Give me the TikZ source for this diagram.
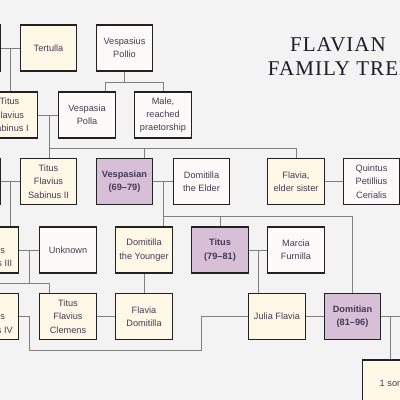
\documentclass[tikz,border=0pt]{standalone}
\usepackage{fontspec}
\setmainfont{Liberation Sans}
\newfontfamily\titlefont[LetterSpace=5]{Liberation Serif}
\definecolor{bg}{HTML}{F3F3F3}
\definecolor{cream}{HTML}{FFF8E7}
\definecolor{snowc}{HTML}{FFFAFA}
\definecolor{thistlec}{HTML}{D8BFD8}
\definecolor{boxborder}{HTML}{222222}
\definecolor{linegray}{HTML}{808080}
\definecolor{txt}{HTML}{443A55}
\definecolor{titlecol}{HTML}{1E1A28}
\begin{document}
\begin{tikzpicture}[x=1pt,y=-1pt,
  person/.style={draw=boxborder, line width=1.3pt, minimum width=56.5pt, minimum height=46pt,
    inner sep=1pt, align=center, font=\fontsize{9.2}{13.3}\selectfont, text=txt},
  blood/.style={person, fill=cream},
  spouse/.style={person, fill=snowc},
  emperor/.style={person, fill=thistlec, font=\fontsize{9.2}{13.3}\selectfont\bfseries},
  link/.style={draw=linegray, line width=1pt},
  titletext/.style={font=\titlefont\fontsize{21}{24}\selectfont, text=titlecol, anchor=base, inner sep=0pt}]
\useasboundingbox (0,0) rectangle (400,400);
\fill[bg] (0,0) rectangle (400,400);
\clip (0,0) rectangle (400,400);

% title
\node[titletext] (t1) at (338,51) {FLAVIAN};
\node[titletext] (t2) at (340,75) {FAMILY TREE};

% people
\node[spouse] (l1) at (-27.5,48) {};
\node[blood] (tert) at (48.5,48) {Tertulla};
\node[spouse] (pollio) at (124.5,48) {Vespasius\\Pollio};
\node[blood] (sab1) at (9.5,115) {Titus\\Flavius\\Sabinus I};
\node[spouse] (polla) at (87,115) {Vespasia\\Polla};
\node[spouse] (male) at (163,115) {Male,\\reached\\praetorship};
\node[spouse] (l3) at (-27.5,181.5) {};
\node[blood] (sab2) at (48.5,181.5) {Titus\\Flavius\\Sabinus II};
\node[emperor] (vesp) at (124.5,181.5) {Vespasian\\(69–79)};
\node[spouse] (dome) at (201.5,181.5) {Domitilla\\the Elder};
\node[blood] (flavia) at (296,181.5) {Flavia,\\elder sister};
\node[spouse] (quin) at (371.5,181.5) {Quintus\\Petillius\\Cerialis};
\node[blood] (sab3) at (-9.5,250) {Titus\\Flavius\\Sabinus III};
\node[spouse] (unk) at (68,250) {Unknown};
\node[blood] (domy) at (144,250) {Domitilla\\the Younger};
\node[emperor] (titus) at (220,250) {Titus\\(79–81)};
\node[spouse] (marcia) at (296,250) {Marcia\\Furnilla};
\node[blood] (sab4) at (-9.5,316.5) {Titus\\Flavius\\Sabinus IV};
\node[blood] (clem) at (68,316.5) {Titus\\Flavius\\Clemens};
\node[blood] (fdom) at (144,316.5) {Flavia\\Domitilla};
\node[blood] (julia) at (277,316.5) {Julia Flavia};
\node[emperor] (domit) at (352.5,316.5) {Domitian\\(81–96)};
\node[blood] (son) at (391,383) {1 son};

% connectors
\draw[link] (l1) -- (tert);
\coordinate (c1) at (10,48);
\draw[link] (c1) -- (c1 |- sab1.north);

\coordinate (c2) at (124.5,82);
\coordinate (c2a) at (105,82);
\coordinate (c2b) at (163,82);
\draw[link] (pollio.south) -- (c2);
\draw[link] (c2a) -- (c2b);
\draw[link] (c2a) -- (c2a |- polla.north);
\draw[link] (c2b) -- (male.north);

\draw[link] (sab1) -- (polla);
\coordinate (c3) at (49,115);
\coordinate (c3b) at (49,148);
\coordinate (c3e) at (296,148);
\coordinate (c3v) at (144,148);
\draw[link] (c3) -- (c3 |- sab2.north);
\draw[link] (c3b) -- (c3e) -- (flavia.north);
\draw[link] (c3v) -- (c3v |- vesp.north);

\draw[link] (l3) -- (sab2);
\coordinate (c4) at (10,181.5);
\draw[link] (c4) -- (c4 |- sab3.north);

\draw[link] (vesp) -- (dome);
\coordinate (c5) at (163,181.5);
\coordinate (c5b) at (163,216);
\coordinate (c5e) at (352.5,216);
\coordinate (c5t) at (220,216);
\draw[link] (c5) -- (c5 |- domy.north);
\draw[link] (c5b) -- (c5e) -- (domit.north);
\draw[link] (c5t) -- (titus.north);

\draw[link] (flavia) -- (quin);

\draw[link] (sab3) -- (unk);
\coordinate (c6) at (29,250);
\coordinate (c6b) at (29,283);
\coordinate (c6l) at (-9.5,283);
\coordinate (c6r) at (49,283);
\draw[link] (c6) -- (c6b);
\draw[link] (sab4.north) -- (c6l) -- (c6r) -- (c6r |- clem.north);

\draw[link] (domy.south) -- (fdom.north);

\draw[link] (titus) -- (marcia);
\coordinate (c7) at (258,250);
\draw[link] (c7) -- (c7 |- julia.north);

\draw[link] (clem) -- (fdom);

\coordinate (d1) at (29,316.5);
\coordinate (d2) at (29,350);
\coordinate (d3) at (201,350);
\coordinate (d4) at (201,316.5);
\draw[link] (sab4.east) -- (d1) -- (d2) -- (d3) -- (d4) -- (julia.west);

\draw[link] (julia) -- (domit);
\coordinate (c8) at (405,316.5);
\coordinate (c8d) at (390,316.5);
\draw[link] (domit.east) -- (c8);
\draw[link] (c8d) -- (c8d |- son.north);
\end{tikzpicture}
\end{document}
